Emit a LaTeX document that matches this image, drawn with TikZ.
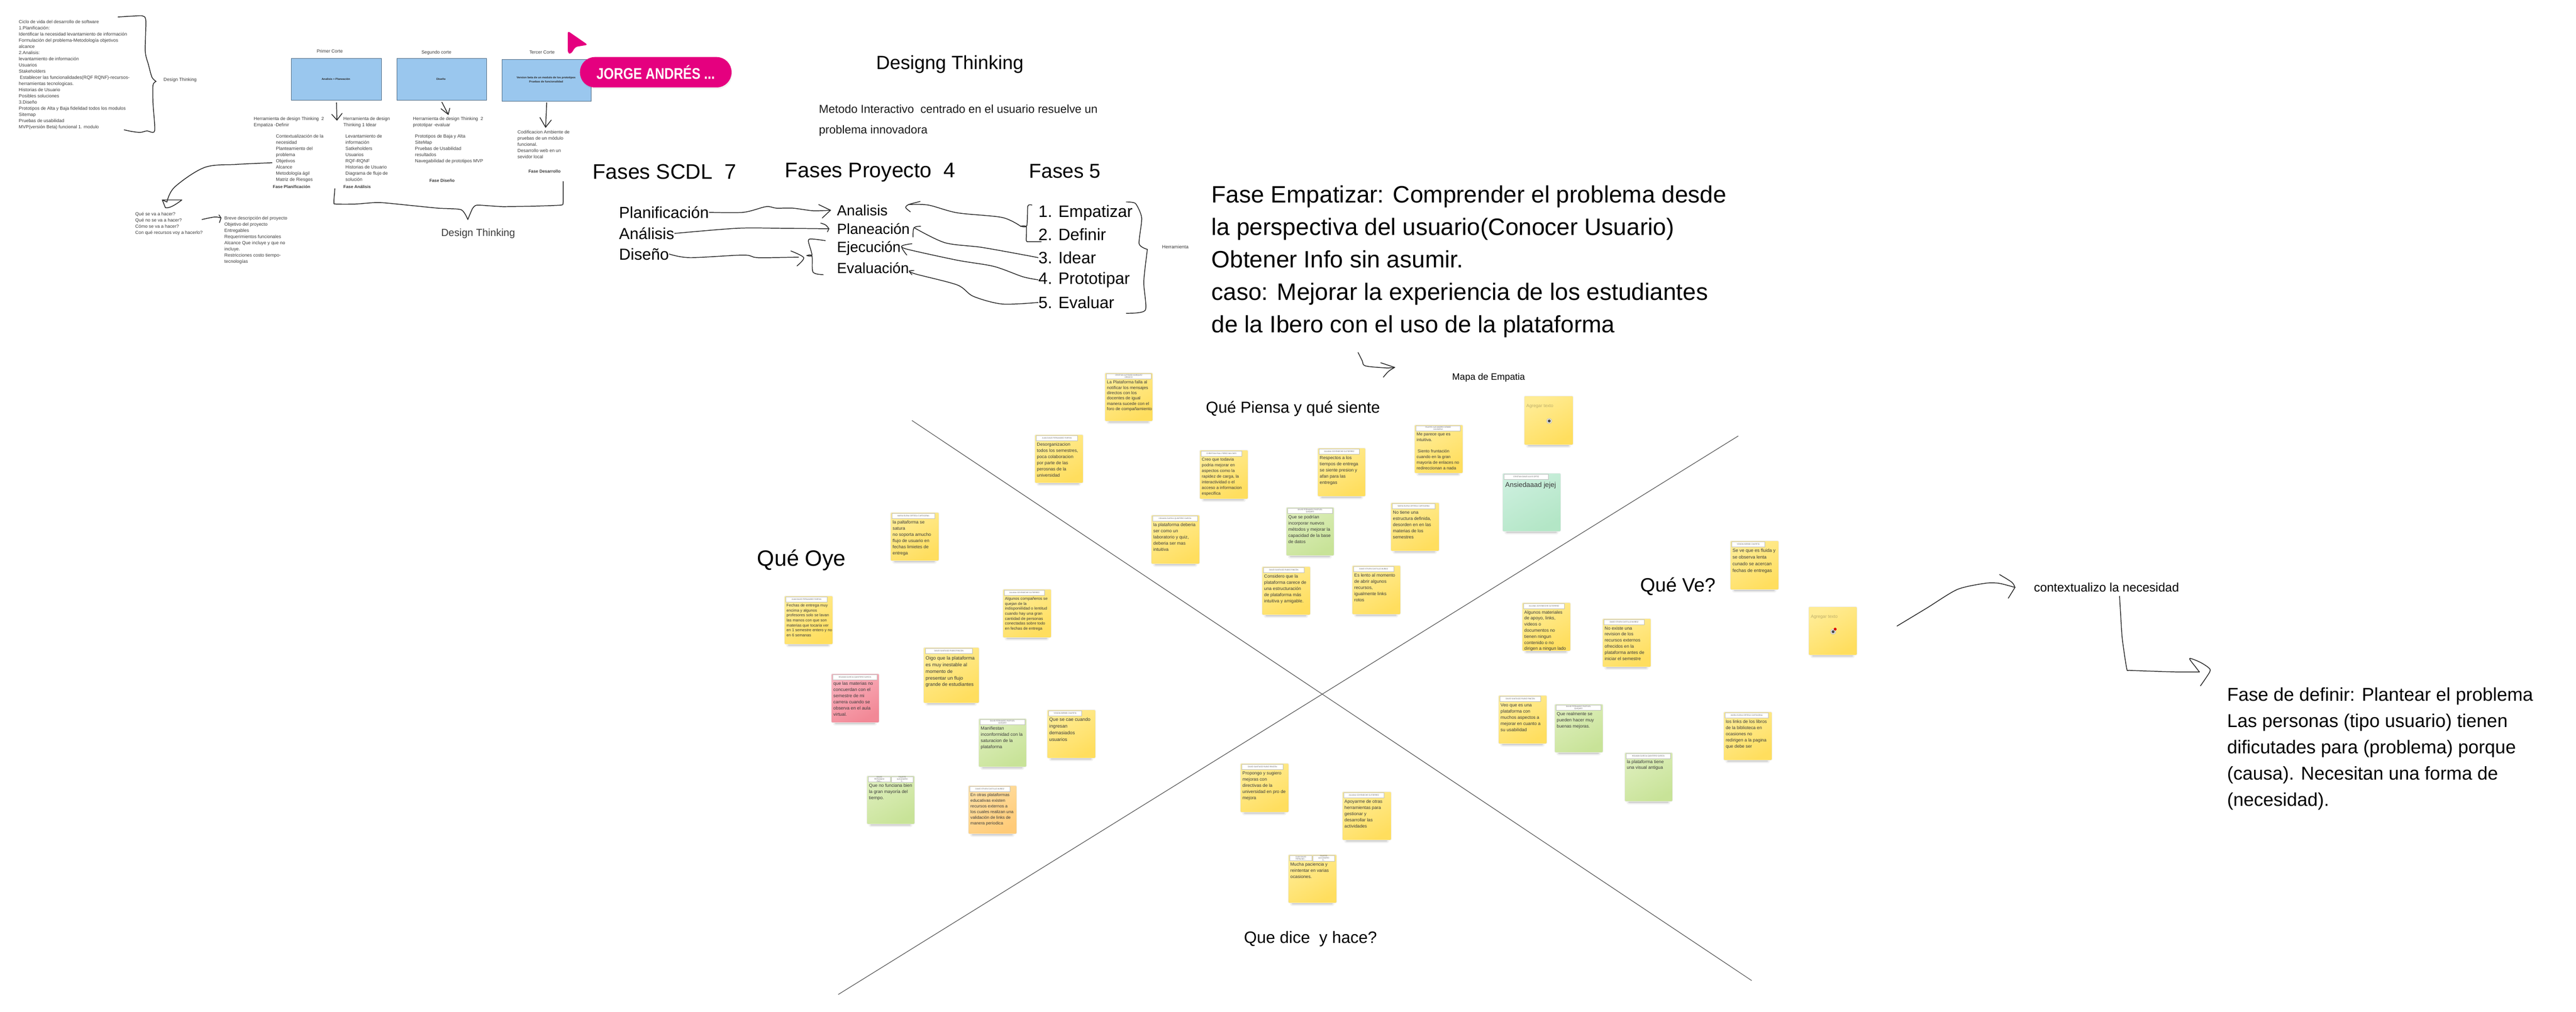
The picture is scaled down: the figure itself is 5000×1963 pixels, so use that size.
\documentclass[tikz,border=0pt]{standalone}
\usepackage{fontspec}
\usepackage{graphicx}
\setmainfont{Liberation Sans}
\newcommand{\fpx}[2]{\fontsize{\fpeval{#1*0.28453}}{\fpeval{#2*0.28453}}\selectfont}
\definecolor{ybA}{HTML}{FFEC95}\definecolor{ybB}{HTML}{FFDE5E}
\definecolor{grA}{HTML}{DDEEBB}\definecolor{grB}{HTML}{C8E398}
\definecolor{mtA}{HTML}{CBEFDD}\definecolor{mtB}{HTML}{B3E6C6}
\definecolor{pkA}{HTML}{F9B0BC}\definecolor{pkB}{HTML}{F28896}
\definecolor{orA}{HTML}{FFDFA3}\definecolor{orB}{HTML}{FFCB78}
\definecolor{boxblue}{HTML}{9AC7EE}\definecolor{boxedge}{HTML}{4F6B85}
\definecolor{magent}{HTML}{E5007F}\definecolor{txtgray}{HTML}{3A3A3A}
\definecolor{hint}{HTML}{BDAE6A}
\tikzset{
  tb/.style={anchor=north west,inner sep=0pt,align=left},
  lb/.style={anchor=west,inner sep=0pt},
  cb/.style={anchor=center,inner sep=0pt},
  small/.style={font={\fpx{8.9}{12}},text=txtgray},
  ink/.style={draw=black!85,line width=0.42pt,line cap=round,line join=round},
  diag/.style={draw=black!65,line width=0.35pt},
  cbox/.style={draw=boxedge,line width=0.35pt,fill=boxblue,anchor=north west,inner sep=0pt},
  pad/.style={anchor=north west,inner sep=0pt,draw=black!7,line width=0.25pt,rounded corners=0.7pt},
  ypad/.style={top color=ybA,bottom color=ybB,shading angle=30},
  gpad/.style={top color=grA,bottom color=grB,shading angle=30},
  mpad/.style={top color=mtA,bottom color=mtB,shading angle=30},
  ppad/.style={top color=pkA,bottom color=pkB,shading angle=30},
  opad/.style={top color=orA,bottom color=orB,shading angle=30},
  namebox/.style={anchor=north west,inner sep=0pt,fill=white,draw=black!25,line width=0.2pt,
    minimum height=0.1cm,align=center,font={\fpx{3.5}{4}},text=black!65},
}
% id, x1, y1, x2, y2, colour style
\newcommand{\padat}[6]{%
  \fill[black,opacity=.05,rounded corners=1pt] ({#2+4},{#5-2}) rectangle ({#4-4},{#5+6});
  \fill[black,opacity=.08,rounded corners=1pt] ({#2+6},{#5-2}) rectangle ({#4-6},{#5+4});
  \fill[black,opacity=.12,rounded corners=.5pt] ({#2+7},{#5-2}) rectangle ({#4-7},{#5+2});
  \node[pad,#6,minimum width={(#4-#2)*0.01cm},minimum height={(#5-#3)*0.01cm}] (#1) at (#2,#3) {};
}
% id, suffix, x offset, width, text
\newcommand{\padname}[5]{%
  \node[namebox,minimum width={#4*0.01cm}] (#1-n#2) at ([shift={(#3,2)}]#1.north west) {#5};
}
% id, font px, leading px, text
\newcommand{\padtext}[4]{%
  \node[tb,text=txtgray,font={\fpx{#2}{#3}}] (#1-t) at ([shift={(4,{19-#3/2})}]#1.north west) {\strut #4};
}
\newcommand{\inkhead}[3]{\draw[ink] ([shift={#2}]#1) -- (#1) -- ([shift={#3}]#1);}
\begin{document}
\begin{tikzpicture}[x=0.01cm,y=-0.01cm]
\useasboundingbox (0,0) rectangle (5000,1963);
\fill[white] (0,0) rectangle (5000,1963);

%% ---- upper-left: life cycle ----
\node[tb,small] (ciclo) at (36,36) {\strut Ciclo de vida del desarrollo de software\\
1.Planificación:\\
Identificar la necesidad levantamiento de información\\
Formulación del problema-Metodología objetivos\\
alcance\\
2.Analisis:\\
levantamiento de información\\
Usuarios\\
Stakeholders\\
\hspace*{.02cm}Establecer las funcionalidades(RQF RQNF)-recursos-\\
herramientas tecnologicas.\\
Historias de Usuario\\
Posibles soluciones\\
3.Diseño\\
Prototipos de Alta y Baja fidelidad todos los modulos\\
Sitemap\\
Pruebas de usabilidad\\
MVP(versión Beta) funcional 1. modulo};
\node[lb,small] (dt1) at (317,155) {Design Thinking};
\draw[ink] plot[smooth,tension=.45] coordinates {(229,33) (262,31) (277,31) (283,40) (282,100) (288,125) (295,150) (303,158)};
\draw[ink] plot[smooth,tension=.45] coordinates {(303,158) (297,165) (297,200) (300,254) (285,254) (272,257) (255,255) (241,252)};

%% ---- three cuts ----
\node[cb,small] (c1) at (640,99) {Primer Corte};
\node[cb,small] (c2) at (847,102) {Segundo corte};
\node[cb,small] (c3) at (1052,101) {Tercer Corte};
\node[cbox,minimum width=1.75cm,minimum height=.81cm] (b1) at (565,113) {};
\node[cbox,minimum width=1.74cm,minimum height=.81cm] (b2) at (770,113) {};
\node[cbox,minimum width=1.73cm,minimum height=.81cm] (b3) at (974,115) {};
\node[cb,font={\bfseries\fpx{5.4}{8}},text=black!85] (b1t) at (652,154) {Analisis + Planeación};
\node[cb,font={\bfseries\fpx{5.4}{8}},text=black!85] (b2t) at (856,154) {Diseño};
\node[cb,font={\bfseries\fpx{5.4}{8}},text=black!85,align=center] (b3t) at (1060,155) {Version beta de un modulo de los prototipos\\Pruebas de funcionalidad};

\coordinate (t1) at (654,233);
\coordinate (t2) at (870,222);
\coordinate (t3) at (1059,247);
\draw[ink] ([yshift=-.04cm]b1.south) -- (t1);
\draw[ink] ([yshift=-.03cm]b2.south) -- (t2);
\draw[ink] ([yshift=-.02cm]b3.south) -- (t3);
\inkhead{t1}{(-10,-11)}{(10,-13)}
\inkhead{t2}{(-14,-11)}{(3,-12)}
\inkhead{t3}{(-11,-19)}{(11,-14)}

\node[tb,small] (h1) at (492,224) {\strut Herramienta de design Thinking\ \ 2\\Empatiza -Definir};
\node[tb,small] (h2) at (666,224) {\strut Herramienta de design\\Thinking 1 Idear};
\node[tb,small] (h3) at (801,224) {\strut Herramienta de design Thinking\ \ 2\\prototipar -evaluar};
\node[tb,small] (plan) at (535,258) {\strut Contextualización de la\\necesidad\\Planteamiento del\\problema\\Objetivos\\Alcance\\Metodología ágil\\Matriz de Riesgos};
\node[tb,small] (anal) at (670,258) {\strut Levantamiento de\\información\\Satkeholders\\Usuarios\\RQF-RQNF\\Historias de Usuario\\Diagrama de flujo de\\solución};
\node[tb,small] (dise) at (805,258) {\strut Prototipos de Baja y Alta\\SiteMap\\Pruebas de Usabilidad\\resultados\\Navegabilidad de prototipos MVP};
\node[tb,small] (codi) at (1004,250) {\strut Codificacion Ambiente de\\pruebas de un módulo\\funcional.\\Desarrollo web en un\\sevidor local};
\node[lb,small,font={\bfseries\fpx{8.3}{12}}] (f1) at (529,362) {Fase Planificación};
\node[lb,small,font={\bfseries\fpx{8.3}{12}}] (f2) at (666,362) {Fase Análisis};
\node[cb,small,font={\bfseries\fpx{8.3}{12}}] (f3) at (858,351) {Fase Diseño};
\node[cb,small,font={\bfseries\fpx{8.3}{12}}] (f4) at (1057,333) {Fase Desarrollo};

\node[cb,font={\fpx{20}{24}},text=txtgray] (dt2) at (928,453) {Design Thinking};
\draw[ink] plot[smooth,tension=.4] coordinates {(650,366) (648,393) (652,396) (690,396) (735,393) (790,398) (850,404) (895,407) (908,426)};
\draw[ink] plot[smooth,tension=.3] coordinates {(908,426) (917,405) (926,398) (975,401) (1040,400) (1089,398) (1093,393) (1093,352)};

\coordinate (cObj) at ([shift={(-7,10)}]plan.west);
\coordinate (t4) at (324,392);
\draw[ink] plot[smooth,tension=.55] coordinates {(cObj) (460,319) (397,325) (339,363) (t4)};
\draw[ink] (315,388) -- (353,388) .. controls (340,398) and (328,405) .. (321,403) -- (315,388) -- (t4);

\node[tb,small] (qs) at (262,409) {\strut Qué se va a hacer?\\Qué no se va a hacer?\\Cómo se va a hacer?\\Con qué recursos voy a hacerlo?};
\node[tb,small] (br) at (435,417) {\strut Breve descripción del proyecto\\Objetivo del proyecto\\Entregables\\Requerimientos funcionales\\Alcance Que incluye y que no\\incluye.\\Restricciones costo tiempo-\\tecnologías};
\coordinate (t5) at (429,423);
\draw[ink] plot[smooth,tension=.5] coordinates {(392,426) (417,421) (t5)};
\draw[ink] (425,417) -- (t5) -- (426,432);

%% ---- cursor ----
\fill[magent,rounded corners=1.2pt] (1102,60) -- (1141,87) -- (1117,91) -- (1108,105) -- (1102,103) -- cycle;
\fill[black,opacity=.05,rounded corners=.29cm] (1127,114) rectangle (1421,173);
\node[anchor=north west,inner sep=0pt,fill=magent,rounded corners=.29cm,minimum width=2.94cm,minimum height=.59cm,
  text=white,font={\bfseries\fpx{30}{34}}] (pill) at (1125,110) {\scalebox{.84}[1]{JORGE ANDRÉS ...}\hspace{.14cm}};

%% ---- titles ----
\node[lb,font={\fpx{37}{44}}] (tit) at (1700,125) {Designg Thinking};
\node[tb,font={\fpx{22.4}{40}},text=black!90] (met) at (1589,191) {\strut Metodo Interactivo\ \ centrado en el usuario resuelve un\\problema innovadora};

%% ---- phases ----
\node[lb,font={\fpx{41}{48}}] (hs) at (1150,333) {Fases SCDL\ \ 7};
\node[lb,font={\fpx{41}{48}}] (hp) at (1523,335) {Fases Proyecto\ \ 4};
\node[lb,font={\fpx{39}{46}}] (hf) at (1997,332) {Fases 5};
\tikzset{big/.style={lb,font={\fpx{31}{36}}},mid/.style={lb,font={\fpx{28.5}{34}}},num/.style={lb,font={\fpx{32}{38}}}}
\node[big] (p1) at (1201,412) {Planificación};
\node[big] (p2) at (1201,453) {Análisis};
\node[big] (p3) at (1201,493) {Diseño};
\node[mid] (q1) at (1624,408) {Analisis};
\node[mid] (q2) at (1624,444) {Planeación};
\node[mid] (q3) at (1624,482) {Ejecución};
\node[mid] (q4) at (1624,520) {Evaluación};
\node[num] (n1) at (2015,413) {1. Empatizar};
\node[num] (n2) at (2015,455) {2. Definir};
\node[num] (n3) at (2015,500) {3. Idear};
\node[num] (n4) at (2015,543) {4. Prototipar};
\node[num] (n5) at (2015,587) {5. Evaluar};
\node[lb,font={\fpx{9.3}{11}},text=txtgray] (her) at (2255,479) {Herramienta};

% scdl -> proyecto
\coordinate (a1) at ([xshift=-.12cm]q1.west);
\coordinate (a2) at ([xshift=-.15cm]q2.west);
\coordinate (a3) at (1560,500);
\draw[ink] plot[smooth,tension=.5] coordinates {(p1.east) (1443,412) (1487,401) (1507,404) (1539,404) (1578,409) (a1)};
\draw[ink] (1589,397) -- (a1) -- (1596,423);
\draw[ink] plot[smooth,tension=.5] coordinates {(p2.east) (1431,443) (1515,443) (a2)};
\draw[ink] (1593,433) .. controls (1603,436) .. (a2) -- (1606,450);
\draw[ink] plot[smooth,tension=.5] coordinates {(p3.east) (1339,500) (1443,495) (1471,500) (1550,499)};
\draw[ink] plot[smooth,tension=.5] coordinates {(1535,487) (a3) (1547,516)};
\draw[ink] plot[smooth,tension=.5] coordinates {(1602,467) (1578,464) (1569,467) (1576,495) (1566,496)};
\draw[ink] plot[smooth,tension=.5] coordinates {(1566,496) (1576,497) (1578,528) (1598,533)};

% fases 5 -> proyecto
\coordinate (b1a) at ([shift={(40,-11)}]q1.east);
\coordinate (b2a) at ([shift={(8,-2)}]q2.east);
\coordinate (b3a) at ([shift={(1,-4)}]q3.east);
\coordinate (b4a) at ([shift={(0,6)}]q4.east);
\draw[ink] plot[smooth,tension=.4] coordinates {(2003,398) (1995,400) (1993,438) (1981,439)};
\draw[ink] plot[smooth,tension=.4] coordinates {(1981,439) (1992,440) (1992,467) (1997,469) (2021,469)};
\draw[ink] plot[smooth,tension=.5] coordinates {(1981,439) (1945,422) (1858,413) (1802,398) (b1a)};
\draw[ink] plot[smooth,tension=.5] coordinates {(1786,391) (b1a) (1758,403) (1767,411)};
\draw[ink] plot[smooth,tension=.5] coordinates {(n3.west) (1989,495) (1905,480) (1834,471) (b2a)};
\draw[ink] plot[smooth,tension=.5] coordinates {(1787,439) (1774,442) (1772,460)};
\draw[ink] plot[smooth,tension=.5] coordinates {(n4.west) (1985,537) (1929,517) (1858,505) (1762,484) (b3a)};
\draw[ink] plot[smooth,tension=.5] coordinates {(1770,473) (b3a) (1760,495)};
\draw[ink] plot[smooth,tension=.5] coordinates {(n5.west) (1945,590) (1889,575) (1858,553) (1778,532) (b4a)};
\draw[ink] plot[smooth,tension=.5] coordinates {(1774,525) (b4a) (1770,533)};
\draw[ink] plot[smooth,tension=.4] coordinates {(2186,392) (2204,395) (2216,423) (2211,473) (2227,484)};
\draw[ink] plot[smooth,tension=.4] coordinates {(2227,484) (2220,547) (2223,602) (2186,608)};

%% ---- empatizar ----
\node[tb,font={\fpx{46}{63}}] (emp) at (2351,349) {\strut Fase Empatizar: Comprender el problema desde\\
la perspectiva del usuario(Conocer Usuario)\\
Obtener Info sin asumir.\\
caso: Mejorar la experiencia de los estudiantes\\
de la Ibero con el uso de la plataforma};
\coordinate (t6) at (2707,713);
\draw[ink] plot[smooth,tension=.5] coordinates {(2636,684) (2644,700) (2650,710) (2690,714) (t6)};
\draw[ink] (2680,704) -- (t6) .. controls (2695,720) .. (2685,732);

\node[lb,font={\fpx{18}{22}}] (mapa) at (2818,733) {Mapa de Empatia};
\node[lb,font={\fpx{31}{38}}] (qp) at (2340,793) {Qué Piensa y qué siente};
\node[lb,font={\fpx{43}{50}}] (qo) at (1469,1087) {Qué Oye};
\node[lb,font={\fpx{37.5}{44}}] (qv) at (3183,1138) {Qué Ve?};
\node[lb,font={\fpx{32}{38}}] (qd) at (2414,1822) {Que dice\ \ y hace?};

%% ---- empathy map axes ----
\coordinate (la) at (1770,816); \coordinate (lb) at (3400,1903);
\coordinate (lc) at (3374,846); \coordinate (ld) at (1627,1930);
\draw[diag] (la) -- (lb);
\draw[diag] (lc) -- (ld);

%% ---- notes ----
\padat{s1}{2144}{723}{2237}{817}{ypad}\padname{s1}{a}{3}{87}{CRISTIAN ALFONSO MARQUEZ\\OROZCO}
\padtext{s1}{8.3}{10.3}{La Plataforma falla al\\notificar los mensajes\\directos con los\\docentes de igual\\manera sucede con el\\foro de compañamiento}
\padat{s2}{2328}{873}{2422}{968}{ypad}\padname{s2}{a}{3}{79}{CHRISTIAN PAUL PEREZ WILCHES}
\padtext{s2}{8.2}{11}{Creo que todavia\\podria mejorar en\\aspectos como la\\rapidez de carga, la\\interactividad o el\\acceso a informacion\\especifica}
\padat{s3}{2557}{869}{2650}{963}{ypad}\padname{s3}{a}{3}{78}{JULIANA GOYENECHE GUTIERREZ}
\padtext{s3}{8.7}{12}{Respectos a los\\tiempos de entrega\\se siente presion y\\afan para las\\entregas}
\padat{s4}{2745}{824}{2839}{918}{ypad}\padname{s4}{a}{3}{86}{FAUSTO ALEJANDRO GÓMEZ\\VALBUENA}
\padtext{s4}{8.2}{11}{Me parece que es\\intuitiva.\\\mbox{}\\\hspace*{.02cm}Siento fruntación\\cuando en la gran\\mayoria de enlaces no\\redireccionan a nada}
\padat{s5}{2958}{768}{3053}{863}{ypad}
\padtext{s5}{8.7}{12}{\color{hint}Agregar texto}
\padat{s6}{2916}{918}{3029}{1031}{mpad}\padname{s6}{a}{3}{86}{CRISTIAN DAVID ALVIS ORTIZ}
\node[tb,text=txtgray,font={\fpx{13.4}{17}}] (s6-t) at ([shift={(5,15)}]s6.north west) {\strut Ansiedaaad jejej};
\padat{s7}{2234}{999}{2328}{1094}{ypad}\padname{s7}{a}{3}{87}{HOLMAN GARCIA QUINTERO GARCÍA}
\padtext{s7}{8.7}{12}{la plataforma deberia\\ser como un\\laboratorio y quiz,\\deberia ser mas\\intuitiva}
\padat{s8}{2496}{984}{2589}{1078}{gpad}\padname{s8}{a}{3}{87}{DAVID FERNANDO PASPUEL\\QUIQUEZ}
\padtext{s8}{8.7}{12}{Que se podrían\\incorporar nuevos\\métodos y mejorar la\\capacidad de la base\\de datos}
\padat{s9}{2699}{975}{2793}{1069}{ypad}\padname{s9}{a}{3}{83}{MARIA ELENA ORTEGA CARTAGENA}
\padtext{s9}{8.7}{12}{No tiene una\\estructura definida,\\desorden en en las\\materias de los\\semestres}
\padat{s10}{2449}{1099}{2543}{1193}{ypad}\padname{s10}{a}{3}{79}{DAVID SANTIAGO RUBIO RINCÓN}
\padtext{s10}{8.7}{12}{Considero que la\\plataforma carece de\\una estructuración\\de plataforma más\\intuitiva y amigable.}
\padat{s11}{2624}{1097}{2718}{1192}{ypad}\padname{s11}{a}{3}{78}{DAVID STIVEN CASTILLO MUÑOZ}
\padtext{s11}{8.7}{12}{Es lento al momento\\de abrir algunos\\recursos,\\igualmente links\\rotos}
\padat{s12}{2008}{843}{2102}{937}{ypad}\padname{s12}{a}{3}{80}{JUAN DAVID FERNANDEZ FARFAN}
\padtext{s12}{8.7}{12}{Desorganizacion\\todos los semestres,\\poca colaboracion\\por parte de las\\perosnas de la\\universidad}
\padat{s13}{1728}{994}{1822}{1088}{ypad}\padname{s13}{a}{3}{83}{MARIA ELENA ORTEGA CARTAGENA}
\padtext{s13}{8.7}{12}{la paltaforma se\\satura\\no soporta amucho\\flujo de usuario en\\fechas limietes de\\entrega}
\padat{s14}{1522}{1156}{1616}{1250}{ypad}\padname{s14}{a}{3}{80}{JUAN DAVID FERNANDEZ FARFAN}
\padtext{s14}{7.6}{9.6}{Fechas de entrega muy\\encima y algunos\\profesores solo se lavan\\las manos con que son\\materias que tocaria ver\\en 1 semestre entero y no\\en 6 semanas}
\padat{s15}{1946}{1143}{2040}{1237}{ypad}\padname{s15}{a}{3}{78}{JULIANA GOYENECHE GUTIERREZ}
\padtext{s15}{7.7}{9.6}{Algunos compañeros se\\quejan de la\\indisponiilidad o lentitud\\cuando hay una gran\\cantidad de personas\\conectadas sobre todo\\en fechas de entrega}
\padat{s16}{1792}{1256}{1900}{1364}{ypad}\padname{s16}{a}{4}{91}{DAVID SANTIAGO RUBIO RINCÓN}
\node[tb,text=txtgray,font={\fpx{9.4}{12.8}}] (s16-t) at ([shift={(4,15)}]s16.north west) {\strut Oigo que la plataforma\\es muy inestable al\\momento de\\presentar un flujo\\grande de estudiantes};
\padat{s17}{1613}{1307}{1706}{1402}{ppad}\padname{s17}{a}{3}{86}{HOLMAN GARCIA QUINTERO GARCÍA}
\padtext{s17}{8.8}{12}{que las materias no\\concuerdan con el\\semestre de mi\\carrera cuando se\\observa en el aula\\virtual.}
\padat{s18}{1899}{1394}{1992}{1488}{gpad}\padname{s18}{a}{3}{87}{DAVID FERNANDO PASPUEL\\QUIQUEZ}
\padtext{s18}{8.8}{12}{Manifiestan\\inconformidad con la\\saturacion de la\\plataforma}
\padat{s19}{2032}{1377}{2126}{1471}{ypad}\padname{s19}{a}{3}{64}{YEISON BERBEI CHAPETA}
\padtext{s19}{9.2}{13}{Que se cae cuando\\ingresan\\demasiados\\usuarios}
\padat{s20}{1682}{1505}{1775}{1599}{gpad}\padname{s20}{a}{3}{43}{DAVID\\FERNANDO\\PAS...}\padname{s20}{b}{48}{42}{FAUSTO\\ALEJANDRO\\G...}
\padtext{s20}{8.8}{12}{Que no funciana bien\\la gran mayoría del\\tiempo.}
\padat{s21}{1879}{1524}{1973}{1618}{opad}\padname{s21}{a}{3}{78}{DAVID STIVEN CASTILLO MUÑOZ}
\padtext{s21}{8.2}{11}{En otras plataformas\\educativas existen\\recursos externos a\\los cuales realizan una\\validación de links de\\manera periodica}
\padat{s22}{3358}{1049}{3452}{1144}{ypad}\padname{s22}{a}{3}{64}{YEISON BERBEI CHAPETA}
\padtext{s22}{9}{13}{Se ve que es fluida y\\se observa lenta\\cunado se acercan\\fechas de entregas}
\padat{s23}{2954}{1169}{3048}{1263}{ypad}\padname{s23}{a}{3}{79}{JULIANA GOYENECHE GUTIERREZ}
\padtext{s23}{8.7}{11.8}{Algunos materiales\\de apoyo, links,\\videos o\\documentos no\\tienen ningun\\contenido o no\\dirigen a ningun lado}
\padat{s24}{3110}{1200}{3204}{1294}{ypad}\padname{s24}{a}{3}{78}{DAVID STIVEN CASTILLO MUÑOZ}
\padtext{s24}{8.7}{11.8}{No existe una\\revision de los\\recursos externos\\ofrecidos en la\\plataforma antes de\\iniciar el semestre}
\padat{s25}{3510}{1177}{3604}{1271}{ypad}
\padtext{s25}{8.7}{12}{\color{hint}Agregar texto}
\padat{s26}{2908}{1349}{3002}{1443}{ypad}\padname{s26}{a}{3}{79}{DAVID SANTIAGO RUBIO RINCÓN}
\padtext{s26}{8.7}{12}{Veo que es una\\plataforma con\\muchos aspectos a\\mejorar en cuanto a\\su usabilidad}
\padat{s27}{3017}{1366}{3111}{1460}{gpad}\padname{s27}{a}{3}{87}{DAVID FERNANDO PASPUEL\\QUIQUEZ}
\padtext{s27}{8.7}{12}{Que realmente se\\pueden hacer muy\\buenas mejoras.}
\padat{s28}{3345}{1381}{3439}{1475}{ypad}\padname{s28}{a}{3}{84}{MARIA ELENA ORTEGA CARTAGENA}
\padtext{s28}{8.7}{12}{los links de los libros\\de la biblioteca en\\ocasiones no\\redirigen a la pagina\\que debe ser}
\padat{s29}{3153}{1460}{3246}{1555}{gpad}\padname{s29}{a}{3}{86}{HOLMAN GARCIA QUINTERO GARCÍA}
\padtext{s29}{8.7}{11}{la plataforma tiene\\una visual antigua}
\padat{s30}{2407}{1481}{2501}{1576}{ypad}\padname{s30}{a}{3}{80}{DAVID SANTIAGO RUBIO RINCÓN}
\padtext{s30}{8.7}{12}{Propongo y sugiero\\mejoras con\\directivas de la\\universidad en pro de\\mejora}
\padat{s31}{2605}{1536}{2700}{1630}{ypad}\padname{s31}{a}{3}{78}{JULIANA GOYENECHE GUTIERREZ}
\padtext{s31}{8.7}{12}{Apoyarme de otras\\herramientas para\\gestionar y\\desarrollar las\\actividades}
\padat{s32}{2500}{1658}{2594}{1752}{ypad}\padname{s32}{a}{3}{43}{JUAN DAVID\\FERNAND...}\padname{s32}{b}{48}{42}{FAUSTO\\ALEJANDRO\\G...}
\padtext{s32}{8.7}{12}{Mucha paciencia y\\reintentar en varias\\ocasiones.}

% reaction avatars
\fill[black!25] (3007,817) circle (5.5);
\fill[white] (3007,817) circle (4.2);
\fill[black!70] (3007,817) circle (3);
\fill[black!25] (3558,1226) circle (5.5);
\fill[white] (3558,1226) circle (4.2);
\fill[black!70] (3558,1226) circle (3);
\fill[red!85!black] (3562,1221) circle (2.8);

%% ---- right side ----
\node[lb,font={\fpx{24}{30}}] (ctx) at (3947,1140) {contextualizo la necesidad};
\node[tb,font={\fpx{36}{51}}] (fdef) at (4322,1324) {\strut Fase de definir: Plantear el problema\\
Las personas (tipo usuario) tienen\\
dificutades para (problema) porque\\
(causa). Necesitan una forma de\\
(necesidad).};
\coordinate (t7) at ([xshift=-.36cm]ctx.west);
\draw[ink] plot[smooth,tension=.45] coordinates {(3682,1215) (3740,1180) (3799,1144) (3853,1132) (3880,1132) (t7)};
\draw[ink] plot[smooth,tension=.5] coordinates {(3881,1115) (3905,1130) (t7)};
\draw[ink] (t7) .. controls (3904,1150) .. (3898,1161);
\coordinate (s8a) at (4114,1157);
\coordinate (t8) at (4269,1304);
\draw[ink] plot[smooth,tension=.3] coordinates {(s8a) (4119,1237) (4128,1298) (4135,1301) (4222,1304) (t8)};
\draw[ink] plot[smooth,tension=.5] coordinates {(t8) (4262,1295) (4250,1278) (4270,1285) (4287,1296) (4289,1304) (4271,1331)};
\end{tikzpicture}
\end{document}
